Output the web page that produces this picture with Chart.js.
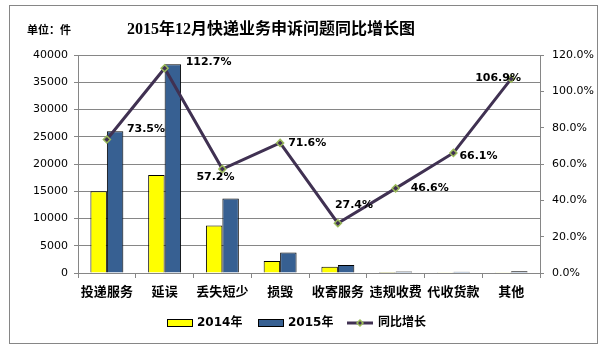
<!DOCTYPE html>
<html><head><meta charset="utf-8">
<script src="https://cdn.jsdelivr.net/npm/chart.js@4"></script>
<style>html,body{margin:0;padding:0;background:#fff}#wrap{width:606px;height:350px}</style>
</head><body><div id="wrap"><canvas id="c" width="606" height="350"></canvas></div>
<script>
const categories = ['投递服务','延误','丢失短少','损毁','收寄服务','违规收费','代收货款','其他'];
const values2014 = [15000, 18000, 8700, 2200, 1150, 200, 150, 150];
const values2015 = [26000, 38300, 13650, 3780, 1465, 293, 250, 310];
const growthPct = [73.5, 112.7, 57.2, 71.6, 27.4, 46.6, 66.1, 106.9];
const leftTicks = [0, 5000, 10000, 15000, 20000, 25000, 30000, 35000, 40000];
const rightTicks = [0, 20, 40, 60, 80, 100, 120];

// label offsets (style only): left edge dx, center dy relative to point
const labelDX = [20, 21, -26, 8, -3, 15, 6, -36];
const labelDY = [-10, -6, 8, 0, -18, 0, 3, -1];

const GRID = '#868686';
const LINE = '#403152';

const deco = {
  id: 'deco',
  beforeDraw(chart) {
    const ctx = chart.ctx;
    ctx.save();
    ctx.fillStyle = '#fff';
    ctx.fillRect(0, 0, chart.width, chart.height);
    ctx.strokeStyle = GRID; ctx.lineWidth = 1;
    ctx.strokeRect(9.5, 5.5, 588, 338);
    ctx.restore();
  },
  afterDatasetsDraw(chart) {
    const ctx = chart.ctx;
    ctx.save();
    // title
    ctx.fillStyle = '#000';
    ctx.textBaseline = 'middle';
    ctx.textAlign = 'center';
    ctx.font = 'bold 16px "Liberation Serif", "Noto Sans CJK SC"';
    ctx.fillText('2015年12月快递业务申诉问题同比增长图', 271, 30);
    ctx.textAlign = 'left';
    ctx.font = 'bold 11px "Noto Sans CJK SC"';
    ctx.fillText('单位：件', 27, 30);
    // data labels
    const meta = chart.getDatasetMeta(2);
    ctx.font = 'bold 11px "DejaVu Sans"';
    ctx.textAlign = 'left';
    meta.data.forEach((pt, i) => {
      ctx.fillText(growthPct[i].toFixed(1) + '%', pt.x + labelDX[i], pt.y + labelDY[i]);
    });
    // legend
    const ly = 323;
    ctx.font = 'bold 12px "DejaVu Sans", "Noto Sans CJK SC"';
    ctx.lineWidth = 1; ctx.strokeStyle = '#000';
    ctx.fillStyle = '#FFFF00'; ctx.fillRect(167, ly - 4, 26, 8); ctx.strokeRect(167.5, ly - 3.5, 25, 7);
    ctx.fillStyle = '#000'; ctx.fillText('2014年', 197, ly);
    ctx.fillStyle = '#376092'; ctx.fillRect(258, ly - 4, 26, 8); ctx.strokeRect(258.5, ly - 3.5, 25, 7);
    ctx.fillStyle = '#000'; ctx.fillText('2015年', 288, ly);
    ctx.strokeStyle = LINE; ctx.lineWidth = 3;
    ctx.beginPath(); ctx.moveTo(347, ly); ctx.lineTo(373, ly); ctx.stroke();
    ctx.fillStyle = LINE; ctx.strokeStyle = '#9bbb59'; ctx.lineWidth = 1.5;
    ctx.beginPath(); ctx.moveTo(360, ly - 3); ctx.lineTo(363, ly); ctx.lineTo(360, ly + 3); ctx.lineTo(357, ly); ctx.closePath(); ctx.fill(); ctx.stroke();
    ctx.fillStyle = '#000'; ctx.fillText('同比增长', 378, ly);
    ctx.restore();
  }
};

new Chart(document.getElementById('c'), {
  type: 'bar',
  data: {
    labels: categories,
    datasets: [
      { label: '2014年', data: values2014, backgroundColor: '#FFFF00', borderColor: '#000', borderWidth: 1, yAxisID: 'y', order: 2, categoryPercentage: 0.57, barPercentage: 1 },
      { label: '2015年', data: values2015, backgroundColor: '#376092', borderColor: '#000', borderWidth: 1, yAxisID: 'y', order: 2, categoryPercentage: 0.57, barPercentage: 1 },
      { type: 'line', label: '同比增长', data: growthPct, yAxisID: 'y1', order: 0, borderColor: LINE, borderWidth: 3, tension: 0,
        pointStyle: 'rectRot', pointRadius: 3.5, pointBackgroundColor: LINE, pointBorderColor: '#9bbb59', pointBorderWidth: 1.5 }
    ]
  },
  options: {
    responsive: false, animation: false, devicePixelRatio: 1,
    layout: { padding: { left: 10, right: 9, top: 55, bottom: 0 } },
    plugins: { legend: { display: false }, tooltip: { enabled: false }, title: { display: false } },
    scales: {
      x: {
        offset: true,
        grid: { display: true, drawOnChartArea: false, offset: true, color: GRID, tickLength: 5 },
        border: { color: GRID },
        ticks: { color: '#000', font: { family: 'Noto Sans CJK SC', size: 13, weight: 'bold' }, padding: 5, maxRotation: 0, autoSkip: false },
        afterFit(s) { s.height = 77; }
      },
      y: {
        position: 'left', min: 0, max: 40000,
        afterBuildTicks(s) { s.ticks = leftTicks.map(v => ({ value: v })); },
        ticks: { color: '#000', font: { family: 'DejaVu Sans', size: 11 }, padding: 6, callback: v => String(v) },
        grid: { color: GRID, tickLength: 4 },
        border: { color: GRID },
        afterFit(s) { s.width = 68; }
      },
      y1: {
        position: 'right', min: 0, max: 120,
        afterBuildTicks(s) { s.ticks = rightTicks.map(v => ({ value: v })); },
        ticks: { color: '#000', font: { family: 'DejaVu Sans', size: 11 }, padding: 8, callback: v => Number(v).toFixed(1) + '%' },
        grid: { drawOnChartArea: false, color: GRID, tickLength: 4 },
        border: { color: GRID },
        afterFit(s) { s.width = 57; }
      }
    }
  },
  plugins: [deco]
});
</script>
</body></html>
